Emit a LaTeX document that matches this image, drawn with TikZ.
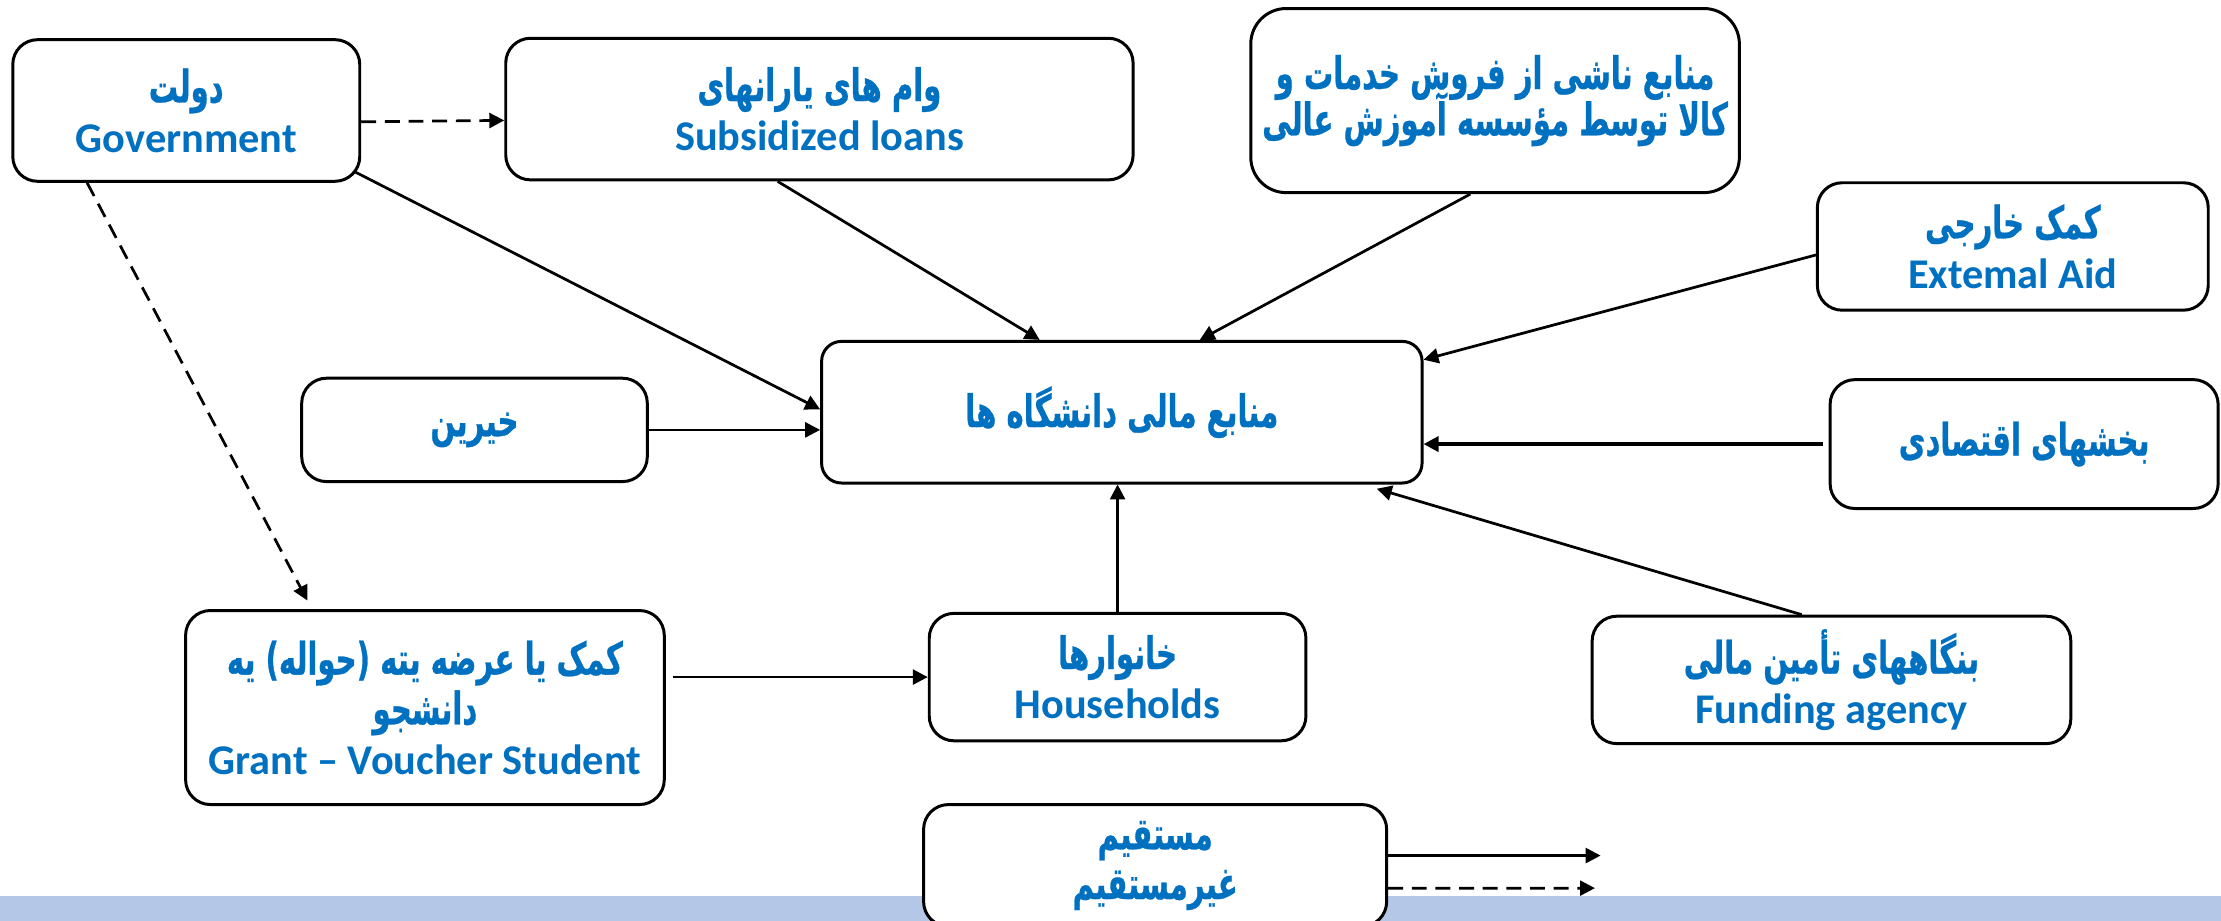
\documentclass[tikz,border=0pt]{standalone}
\usepackage{fontspec}
\setmainfont{Carlito}
\newfontfamily\fa[Script=Arabic,FakeStretch=0.65,FakeBold=0.6]{DejaVu Sans}
\TeXXeTstate=1
\usetikzlibrary{arrows.meta}
\definecolor{fa_blue}{RGB}{0, 112, 192}
\definecolor{band_blue}{RGB}{180, 199, 231}
\newcommand{\fatxt}[1]{{\fa\fontsize{18}{20}\selectfont\beginR #1\endR}}
\tikzstyle{bx}=[rectangle,rounded corners=0.35cm,draw=black,fill=white,
  line width=1.2pt,text=fa_blue,align=center,inner sep=2pt,
  font=\fontsize{17}{20}\selectfont\bfseries]
\tikzstyle{ar}=[-{Triangle[length=6pt,width=6pt]},line width=1.1pt]
\tikzstyle{dar}=[ar,dash pattern=on 6pt off 3.5pt]

\begin{document}
\begin{tikzpicture}[x=0.02cm, y=-0.02cm]
        \useasboundingbox (0,0) rectangle (1568,650);
        \fill[band_blue] (0,632.6) rectangle (1568,650);
        \node[bx,minimum width=4.9cm,minimum height=2cm] (gov) at (131.5,78) {\fatxt{دولت}\\Government};
		\node[bx,minimum width=8.86cm,minimum height=2cm] (loan) at (578.5,77) {\fatxt{وام های یارانهای}\\Subsidized loans};
		\node[bx,rounded corners=0.5cm,minimum width=6.9cm,minimum height=2.6cm] (sales) at (1055.5,71) {\fatxt{منابع ناشی از فروش خدمات و}\\[-4pt]\fatxt{کالا توسط مؤسسه آموزش عالی}};
		\node[bx,minimum width=5.52cm,minimum height=1.8cm] (ext) at (1421,174) {\fatxt{کمک خارجی}\\Extemal Aid};
		\node[bx,rounded corners=0.28cm,minimum width=8.48cm,minimum height=2cm] (cen) at (792,291) {\fatxt{منابع مالی دانشگاه ها}};
		\node[bx,minimum width=4.88cm,minimum height=1.46cm] (khe) at (335,303.5) {\fatxt{خیرین}};
		\node[bx,minimum width=5.48cm,minimum height=1.82cm] (econ) at (1429,313.5) {\fatxt{بخشهای اقتصادی}};
		\node[bx,minimum width=6.76cm,minimum height=2.74cm] (grant) at (300,499.5) {\fatxt{کمک یا عرضه یته (حواله) یه}\\\fatxt{دانشجو}\\Grant – Voucher Student};
		\node[bx,minimum width=5.32cm,minimum height=1.8cm] (hh) at (789,478) {\fatxt{خانوارها}\\Households};
		\node[bx,minimum width=6.76cm,minimum height=1.8cm] (fund) at (1293,480) {\fatxt{بنگاههای تأمین مالی}\\Funding agency};
		\node[bx,minimum width=6.54cm,minimum height=1.72cm] (leg) at (815.5,611) {\fatxt{مستقیم}\\\fatxt{غیرمستقیم}};
		\coordinate (solidend) at (1130,604);
		\coordinate (dashend) at (1126,627);
        \draw[dar] ([yshift=-0.16cm]gov.east) to ([yshift=-0.16cm]loan.west);
		\draw[dar] ([xshift=-1.4cm]gov.south) to ([shift={(-1.66cm,0.12cm)}]grant.north);
		\draw[ar] ([shift={(-0.1cm,0.16cm)}]gov.south east) to ([yshift=0.04cm]cen.west);
		\draw[ar] (khe.east) to (khe.east -| cen.west);
		\draw[ar] ([xshift=-0.59cm]loan.south) to ([xshift=-1.16cm]cen.north);
		\draw[ar] ([xshift=-0.35cm]sales.south) to ([xshift=1.1cm]cen.north);
		\draw[ar] ([yshift=-0.12cm]ext.west) to ([yshift=-0.28cm]cen.north east);
		\draw[ar,line width=1.6pt] ([xshift=-0.08cm]econ.west) to (econ.west -| cen.east);
		\draw[ar] ([xshift=-0.42cm]fund.north) to ([shift={(-0.66cm,-0.06cm)}]cen.south east);
		\draw[ar] (hh.north) to (hh.north |- cen.south);
		\draw[ar] ([xshift=0.1cm]grant.east |- hh.west) to (hh.west);
		\draw[ar] ([yshift=0.14cm]leg.east) to (solidend);
		\draw[dar] ([yshift=-0.32cm]leg.east) to (dashend);
    \end{tikzpicture}
\end{document}
